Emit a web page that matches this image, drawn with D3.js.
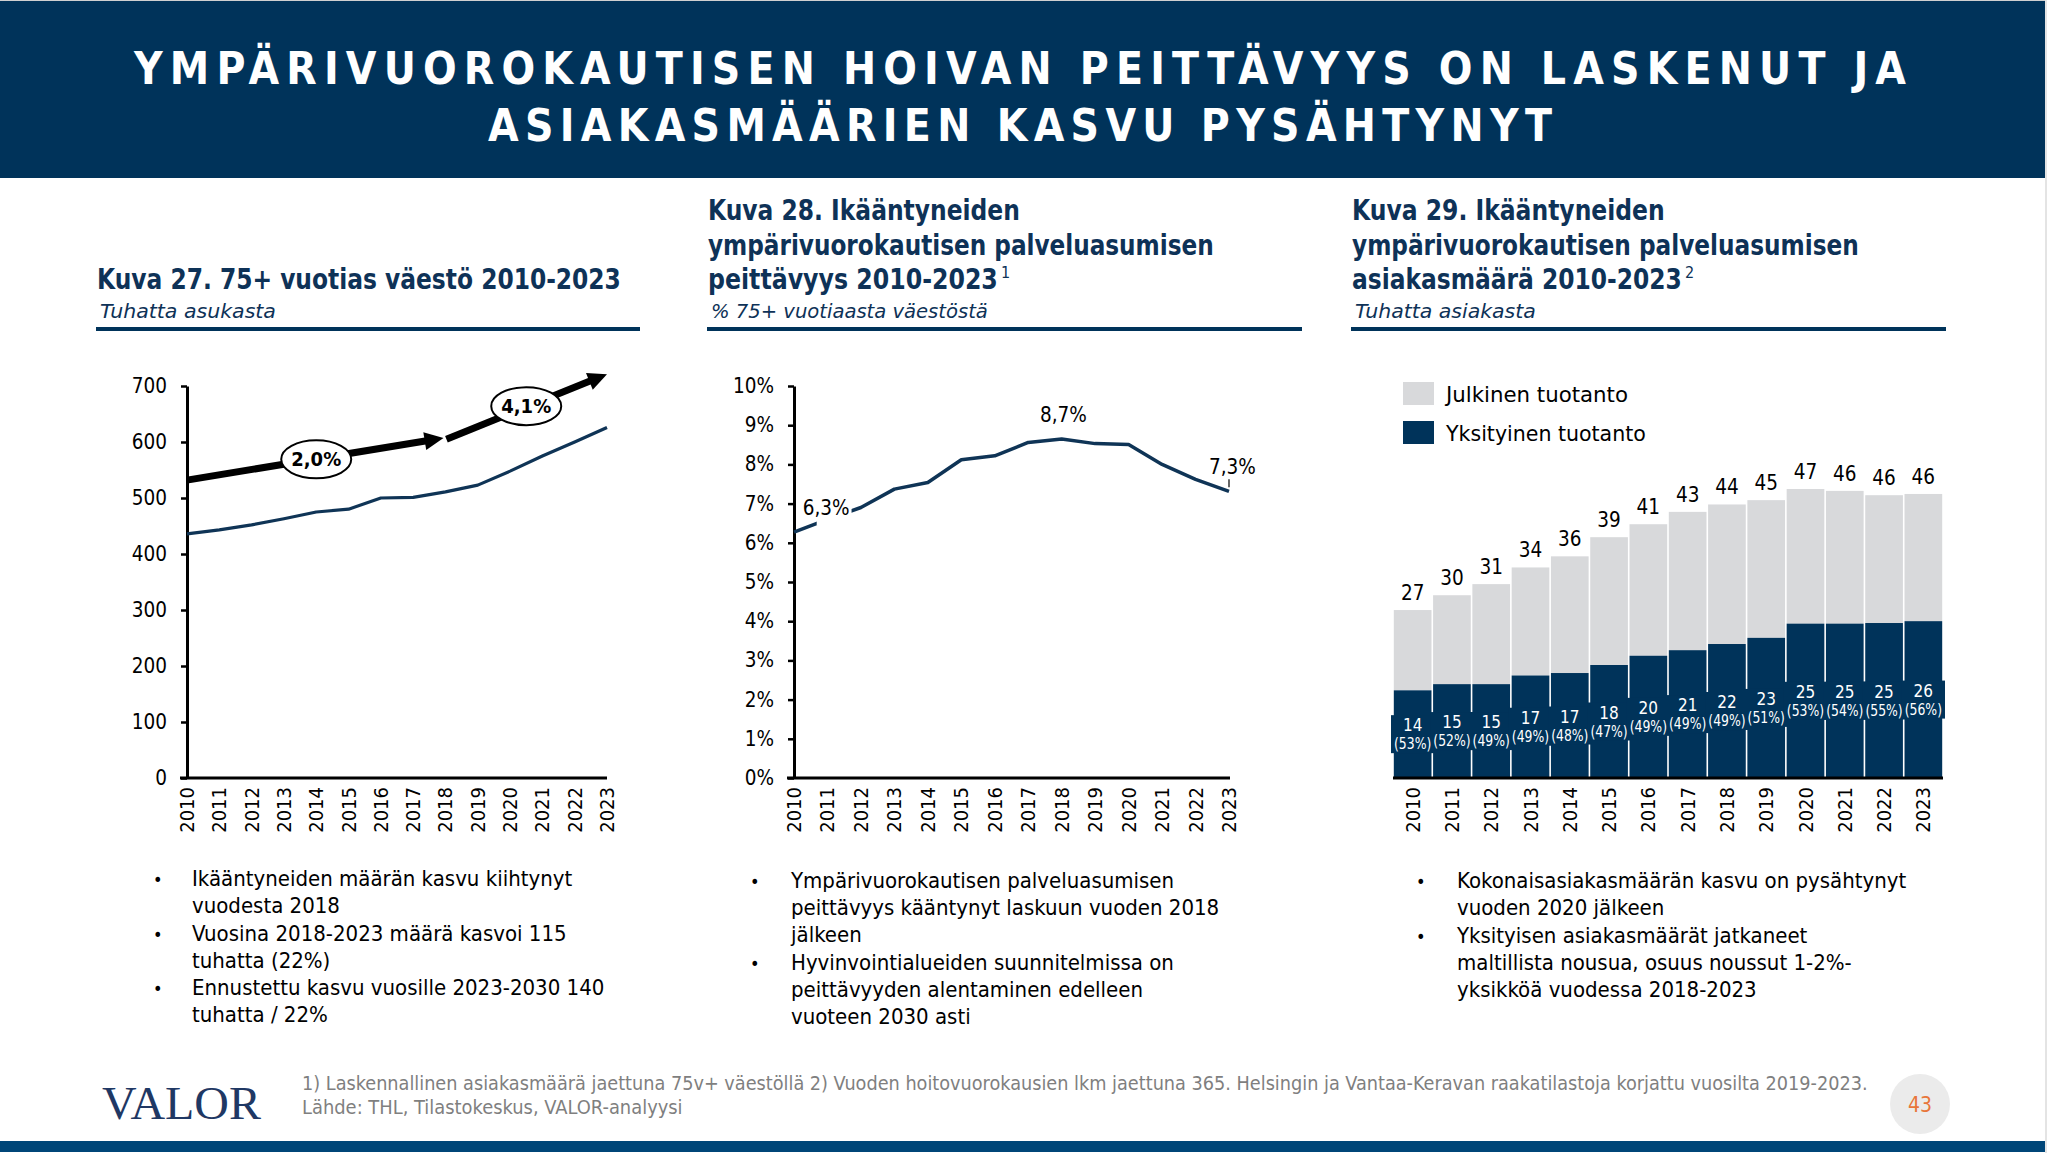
<!DOCTYPE html>
<html>
<head>
<meta charset="utf-8">
<script src="https://cdn.jsdelivr.net/npm/d3@7"></script>
<style>
  html, body { margin: 0; padding: 0; background: #fff; }
  svg { display: block; }
  text { font-family: 'DejaVu Sans Condensed', 'DejaVu Sans', sans-serif; font-stretch: condensed; }
</style>
</head>
<body>
<svg id="c" width="2047" height="1153"></svg>
<script>
// ---------------- DATA ----------------
const years = [2010, 2011, 2012, 2013, 2014, 2015, 2016, 2017, 2018, 2019, 2020, 2021, 2022, 2023];

// Kuva 27: 75+ population, thousands
const population75 = [436, 443, 452, 463, 475, 480, 500, 501, 511, 523, 548, 575, 600, 626];
const popTicks = [0, 100, 200, 300, 400, 500, 600, 700];
// trend arrows: [year, value] start -> tip
const popArrows = [
  [[2010, 532], [2017.94, 607]],
  [[2018.03, 605], [2023, 721]]
];
const popBubbles = [
  { year: 2014.0, value: 569, text: "2,0%" },
  { year: 2020.5, value: 664, text: "4,1%" }
];

// Kuva 28: coverage, % of 75+ population
const coverage = [6.27, 6.6, 6.9, 7.37, 7.54, 8.12, 8.22, 8.56, 8.65, 8.53, 8.51, 8.0, 7.62, 7.31];
const coverageTicks = [0, 1, 2, 3, 4, 5, 6, 7, 8, 9, 10];
const coverageLabels = [
  { year: 2010.96, value: 6.72, text: "6,3%", bg: true },
  { year: 2018.05, value: 9.07, text: "8,7%", bg: false },
  { year: 2023.1, value: 7.75, text: "7,3%", bg: false }
];

// Kuva 29: clients, thousands
const privateClients = [14.2, 15.2, 15.2, 16.6, 17.0, 18.3, 19.8, 20.7, 21.7, 22.7, 25.0, 25.0, 25.1, 25.4];
const totalClients  = [27.2, 29.6, 31.4, 34.1, 35.9, 39.0, 41.1, 43.1, 44.3, 45.0, 46.8, 46.5, 45.8, 46.0];
const totalLabels   = ["27", "30", "31", "34", "36", "39", "41", "43", "44", "45", "47", "46", "46", "46"];
const privateLabels = ["14", "15", "15", "17", "17", "18", "20", "21", "22", "23", "25", "25", "25", "26"];
const privateShare  = ["(53%)", "(52%)", "(49%)", "(49%)", "(48%)", "(47%)", "(49%)", "(49%)", "(49%)", "(51%)", "(53%)", "(54%)", "(55%)", "(56%)"];
const seriesNames = ["Julkinen tuotanto", "Yksityinen tuotanto"];

// Texts
const headerLines = ["YMPÄRIVUOROKAUTISEN HOIVAN PEITTÄVYYS ON LASKENUT JA", "ASIAKASMÄÄRIEN KASVU PYSÄHTYNYT"];
const bullets1 = [
  ["Ikääntyneiden määrän kasvu kiihtynyt", "vuodesta 2018"],
  ["Vuosina 2018-2023 määrä kasvoi 115", "tuhatta (22%)"],
  ["Ennustettu kasvu vuosille 2023-2030 140", "tuhatta / 22%"]
];
const bullets2 = [
  ["Ympärivuorokautisen palveluasumisen", "peittävyys kääntynyt laskuun vuoden 2018", "jälkeen"],
  ["Hyvinvointialueiden suunnitelmissa on", "peittävyyden alentaminen edelleen", "vuoteen 2030 asti"]
];
const bullets3 = [
  ["Kokonaisasiakasmäärän kasvu on pysähtynyt", "vuoden 2020 jälkeen"],
  ["Yksityisen asiakasmäärät jatkaneet", "maltillista nousua, osuus noussut 1-2%-", "yksikköä vuodessa 2018-2023"]
];
const footnotes = [
  "1) Laskennallinen asiakasmäärä jaettuna 75v+ väestöllä 2) Vuoden hoitovuorokausien lkm jaettuna 365. Helsingin ja Vantaa-Keravan raakatilastoja korjattu vuosilta 2019-2023.",
  "Lähde: THL, Tilastokeskus, VALOR-analyysi"
];

// ---------------- STYLE ----------------
const NAVY = "#00335A";
const TITLE = "#0E3257";
const GREY_BAR = "#D8D9DB";

const svg = d3.select("#c");

// horizontally scale a text so its rendered width is w (keeps glyph height)
function fit(sel, w) {
  const x = +sel.attr("x") || 0, y = +sel.attr("y") || 0;
  const w0 = sel.node().getComputedTextLength();
  const s = w / w0;
  sel.attr("x", 0).attr("y", 0).attr("transform", `translate(${x},${y}) scale(${s},1)`);
  return sel;
}

// ---------------- HEADER ----------------
svg.append("rect").attr("x", 0).attr("y", 0).attr("width", 2047).attr("height", 1153).attr("fill", "#fff");
svg.append("rect").attr("x", 0).attr("y", 0).attr("width", 2047).attr("height", 2).attr("fill", "#d0d0d0");
svg.append("rect").attr("x", 0).attr("y", 1).attr("width", 2045).attr("height", 177).attr("fill", NAVY);
svg.append("rect").attr("x", 2045).attr("y", 0).attr("width", 2).attr("height", 1153).attr("fill", "#e4e4e4");

const hdrPos = [{ y: 84, w: 1772 }, { y: 141, w: 1064 }];
headerLines.forEach((t, i) => {
  const tx = svg.append("text")
    .attr("x", 1020).attr("y", hdrPos[i].y)
    .attr("text-anchor", "middle")
    .attr("fill", "#fff")
    .attr("font-size", 44).attr("font-weight", "bold")
    .text(t);
  tx.attr("textLength", hdrPos[i].w).attr("lengthAdjust", "spacing");
});

// ---------------- PANEL TITLES ----------------
function panelTitle(x, lines, sup, sub, ruleW, widths) {
  const base = 289 - (lines.length - 1) * 34.5;
  lines.forEach((l, i) => {
    const t = svg.append("text")
      .attr("x", x).attr("y", base + i * 34.5)
      .attr("fill", TITLE).attr("font-size", 28).attr("font-weight", "bold")
      .text(l);
    fit(t, widths[i]);
  });
  if (sup) {
    svg.append("text")
      .attr("x", x + widths[lines.length - 1] + 3).attr("y", 278)
      .attr("fill", TITLE).attr("font-size", 16)
      .text(sup);
  }
  const st = svg.append("text")
    .attr("x", x + 3).attr("y", 318)
    .attr("fill", TITLE).attr("font-size", 20).attr("font-style", "italic")
    .text(sub);
  svg.append("rect").attr("x", x - 1).attr("y", 327).attr("width", ruleW).attr("height", 4).attr("fill", NAVY);
  return st;
}
fit(panelTitle(97, ["Kuva 27. 75+ vuotias väestö 2010-2023"], null, "Tuhatta asukasta", 544, [524]), 176);
fit(panelTitle(708, ["Kuva 28. Ikääntyneiden", "ympärivuorokautisen palveluasumisen", "peittävyys 2010-2023"], "1", "% 75+ vuotiaasta väestöstä", 595, [312, 506, 290]), 277);
fit(panelTitle(1352, ["Kuva 29. Ikääntyneiden", "ympärivuorokautisen palveluasumisen", "asiakasmäärä 2010-2023"], "2", "Tuhatta asiakasta", 595, [313, 507, 330]), 181);

// ---------------- CHART 1 ----------------
const x1 = d3.scaleLinear().domain([2010, 2023]).range([187, 607]);
const y1 = d3.scaleLinear().domain([0, 700]).range([778, 386]);
const g1 = svg.append("g");

const ax1 = g1.append("g").attr("transform", "translate(187,0)")
  .call(d3.axisLeft(y1).tickValues(popTicks).tickSize(6).tickSizeOuter(0).tickPadding(14));
ax1.select(".domain").attr("stroke", "#000").attr("stroke-width", 3);
ax1.selectAll(".tick line").attr("stroke", "#000").attr("stroke-width", 2.5);
ax1.selectAll(".tick text").attr("font-size", 20.5).attr("fill", "#000")
  .style("font-family", "'DejaVu Sans Condensed','DejaVu Sans',sans-serif");

g1.append("line").attr("x1", 180).attr("x2", 607).attr("y1", 778).attr("y2", 778)
  .attr("stroke", "#000").attr("stroke-width", 3);

g1.selectAll("text.xl").data(years).join("text")
  .attr("class", "xl")
  .attr("transform", d => `translate(${x1(d) + 7},787) rotate(-90)`)
  .attr("text-anchor", "end")
  .attr("font-size", 20).attr("fill", "#000")
  .text(d => d);

g1.append("path")
  .datum(population75)
  .attr("fill", "none").attr("stroke", "#0F3456").attr("stroke-width", 3.2)
  .attr("stroke-linejoin", "round")
  .attr("d", d3.line().x((d, i) => x1(years[i])).y(d => y1(d)));

// arrows
const HEAD = 19;
popArrows.forEach(a => {
  const [p0, p1] = a.map(p => [x1(p[0]), y1(p[1])]);
  const dx = p1[0] - p0[0], dy = p1[1] - p0[1];
  const L = Math.hypot(dx, dy), ux = dx / L, uy = dy / L;
  const base = [p1[0] - ux * HEAD, p1[1] - uy * HEAD];
  g1.append("line").attr("x1", p0[0]).attr("y1", p0[1]).attr("x2", base[0] + ux * 2).attr("y2", base[1] + uy * 2)
    .attr("stroke", "#000").attr("stroke-width", 7);
  const nx = -uy, ny = ux, hw = 9;
  g1.append("path")
    .attr("d", `M${p1[0]},${p1[1]} L${base[0] + nx * hw},${base[1] + ny * hw} L${base[0] - nx * hw},${base[1] - ny * hw} Z`)
    .attr("fill", "#000");
});
popBubbles.forEach(b => {
  g1.append("ellipse").attr("cx", x1(b.year)).attr("cy", y1(b.value)).attr("rx", 35).attr("ry", 19)
    .attr("fill", "#fff").attr("stroke", "#000").attr("stroke-width", 2);
  g1.append("text").attr("x", x1(b.year)).attr("y", y1(b.value) + 7)
    .attr("text-anchor", "middle").attr("font-size", 20).attr("font-weight", "bold").attr("fill", "#000")
    .text(b.text);
});

// ---------------- CHART 2 ----------------
const x2 = d3.scaleLinear().domain([2010, 2023]).range([794, 1229]);
const y2 = d3.scaleLinear().domain([0, 10]).range([778, 386]);
const g2 = svg.append("g");

const ax2 = g2.append("g").attr("transform", "translate(794,0)")
  .call(d3.axisLeft(y2).tickValues(coverageTicks).tickSize(6).tickSizeOuter(0).tickPadding(14).tickFormat(d => d + "%"));
ax2.select(".domain").attr("stroke", "#000").attr("stroke-width", 3);
ax2.selectAll(".tick line").attr("stroke", "#000").attr("stroke-width", 2.5);
ax2.selectAll(".tick text").attr("font-size", 20.5).attr("fill", "#000")
  .style("font-family", "'DejaVu Sans Condensed','DejaVu Sans',sans-serif");

g2.append("line").attr("x1", 787).attr("x2", 1230).attr("y1", 778).attr("y2", 778)
  .attr("stroke", "#000").attr("stroke-width", 3);

g2.selectAll("text.xl").data(years).join("text")
  .attr("class", "xl")
  .attr("transform", d => `translate(${x2(d) + 7},787) rotate(-90)`)
  .attr("text-anchor", "end")
  .attr("font-size", 20).attr("fill", "#000")
  .text(d => d);

g2.append("path")
  .datum(coverage)
  .attr("fill", "none").attr("stroke", "#0F3456").attr("stroke-width", 3.5)
  .attr("stroke-linejoin", "round")
  .attr("d", d3.line().x((d, i) => x2(years[i])).y(d => y2(d)));

// leader for last label
g2.append("line").attr("x1", x2(2023)).attr("x2", x2(2023)).attr("y1", y2(7.62)).attr("y2", y2(7.42))
  .attr("stroke", "#000").attr("stroke-width", 1.2);

coverageLabels.forEach(l => {
  const t = g2.append("text").attr("x", x2(l.year)).attr("y", y2(l.value))
    .attr("text-anchor", "middle").attr("font-size", 20.5).attr("fill", "#000")
    .text(l.text);
  if (l.bg) {
    const bb = t.node().getBBox();
    g2.insert("rect", () => t.node())
      .attr("x", bb.x + 14).attr("y", bb.y + 2).attr("width", bb.width - 12).attr("height", bb.height + 4)
      .attr("fill", "#fff");
  }
});

// ---------------- CHART 3 ----------------
const x3 = d3.scaleBand().domain(years).range([1393, 1943]).padding(0);
const y3 = d3.scaleLinear().domain([0, 63]).range([778, 389]);
const g3 = svg.append("g");
const bw = x3.bandwidth();

g3.selectAll("rect.pub").data(years).join("rect")
  .attr("class", "pub")
  .attr("x", d => x3(d) + 0.8).attr("width", bw - 1.6)
  .attr("y", (d, i) => y3(totalClients[i])).attr("height", (d, i) => y3(privateClients[i]) - y3(totalClients[i]))
  .attr("fill", GREY_BAR);
g3.selectAll("rect.priv").data(years).join("rect")
  .attr("class", "priv")
  .attr("x", d => x3(d) + 0.8).attr("width", bw - 1.6)
  .attr("y", (d, i) => y3(privateClients[i])).attr("height", (d, i) => y3(0) - y3(privateClients[i]))
  .attr("fill", NAVY);

g3.append("line").attr("x1", 1393).attr("x2", 1943).attr("y1", 778).attr("y2", 778)
  .attr("stroke", "#000").attr("stroke-width", 3);

// total labels
g3.selectAll("text.tot").data(years).join("text")
  .attr("class", "tot")
  .attr("x", d => x3(d) + bw / 2).attr("y", (d, i) => y3(totalClients[i]) - 10)
  .attr("text-anchor", "middle").attr("font-size", 20.5).attr("fill", "#000")
  .text((d, i) => totalLabels[i]);

// private labels on navy boxes
years.forEach((yr, i) => {
  const cx = x3(yr) + bw / 2;
  const cy = (y3(0) + y3(privateClients[i])) / 2;
  const boxW = bw + 4, boxH = 38;
  g3.append("rect").attr("x", cx - boxW / 2).attr("y", cy - boxH / 2).attr("width", boxW).attr("height", boxH)
    .attr("fill", NAVY);
});
years.forEach((yr, i) => {
  const cx = x3(yr) + bw / 2;
  const cy = (y3(0) + y3(privateClients[i])) / 2;
  g3.append("text").attr("x", cx).attr("y", cy - 3)
    .attr("text-anchor", "middle").attr("font-size", 17).attr("fill", "#fff")
    .text(privateLabels[i]);
  const t = g3.append("text").attr("x", cx).attr("y", cy + 15)
    .attr("text-anchor", "middle").attr("font-size", 16.5).attr("fill", "#fff")
    .text(privateShare[i]);
  const w0 = t.node().getComputedTextLength();
  if (w0 > bw - 2) fit(t, bw - 2);
});

g3.selectAll("text.xl").data(years).join("text")
  .attr("class", "xl")
  .attr("transform", d => `translate(${x3(d) + bw / 2 + 7},787) rotate(-90)`)
  .attr("text-anchor", "end")
  .attr("font-size", 20).attr("fill", "#000")
  .text(d => d);

// legend
const legColors = [GREY_BAR, NAVY];
const legWidths = [182, 200];
seriesNames.forEach((n, i) => {
  g3.append("rect").attr("x", 1403).attr("y", 382 + i * 39).attr("width", 31).attr("height", 23).attr("fill", legColors[i]);
  fit(g3.append("text").attr("x", 1446).attr("y", 402 + i * 39).attr("font-size", 22).attr("fill", "#000").text(n), legWidths[i]);
});

// ---------------- BULLETS ----------------
function bullets(xb, xt, y0, groups) {
  let y = y0;
  groups.forEach(g => {
    svg.append("text").attr("x", xb).attr("y", y).attr("font-size", 18).attr("fill", "#000").text("•");
    g.forEach(line => {
      svg.append("text").attr("x", xt).attr("y", y).attr("font-size", 22).attr("fill", "#000").text(line);
      y += 27;
    });
    y += 0.5;
  });
}
bullets(153, 192, 886, bullets1);
bullets(750, 791, 888, bullets2);
bullets(1416, 1457, 888, bullets3);

// ---------------- FOOTER ----------------
fit(svg.append("text").attr("x", 102).attr("y", 1119).attr("font-size", 46)
  .style("font-family", "'Liberation Serif','DejaVu Serif',serif").attr("fill", "#1F3864").text("VALOR"), 159);
fit(svg.append("text").attr("x", 302).attr("y", 1090).attr("font-size", 19).attr("fill", "#7F7F7F").text(footnotes[0]), 1567);
fit(svg.append("text").attr("x", 302).attr("y", 1114).attr("font-size", 19).attr("fill", "#7F7F7F").text(footnotes[1]), 381);

svg.append("circle").attr("cx", 1920).attr("cy", 1104).attr("r", 30).attr("fill", "#EBEBEB");
svg.append("text").attr("x", 1920).attr("y", 1112).attr("text-anchor", "middle").attr("font-size", 21)
  .attr("fill", "#E8763A").text("43");

svg.append("rect").attr("x", 0).attr("y", 1141).attr("width", 2045).attr("height", 11).attr("fill", "#004678");
</script>
</body>
</html>
